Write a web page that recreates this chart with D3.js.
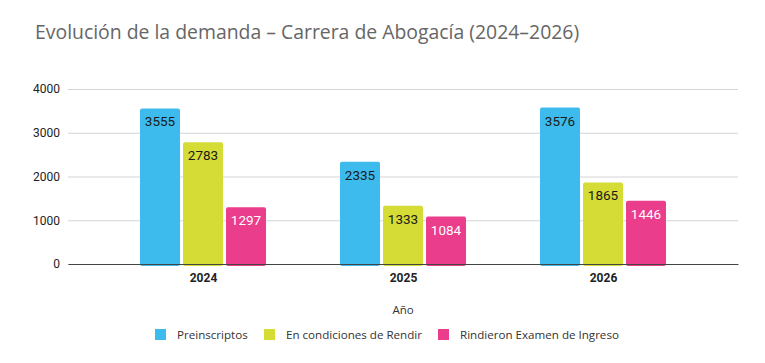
<!DOCTYPE html>
<html>
<head>
<meta charset="utf-8">
<script src="https://cdn.jsdelivr.net/npm/d3@7"></script>
<style>
  body { margin: 0; background: #fff; }
  svg { display: block; }
</style>
</head>
<body>
<div id="chart"></div>
<script>
// data
var years = ["2024", "2025", "2026"];
var seriesNames = ["Preinscriptos", "En condiciones de Rendir", "Rindieron Examen de Ingreso"];
var preinscriptos = [3555, 2335, 3576];
var enCondiciones = [2783, 1333, 1865];
var rindieron = [1297, 1084, 1446];
var yTicks = [0, 1000, 2000, 3000, 4000];

var colors = ["#3dbbec", "#d4dc35", "#ea3d8c"];
var labelColors = ["#1a1a1a", "#1a1a1a", "#ffffff"];

var svgWidth = 765, svgHeight = 363;
var margin = { top: 89, bottom: 99, left: 68, right: 27 };
var width = svgWidth - margin.left - margin.right;
var height = svgHeight - margin.top - margin.bottom;

var svg = d3.select("#chart").append("svg")
  .attr("width", svgWidth)
  .attr("height", svgHeight);

// title
svg.append("text")
  .attr("x", 35)
  .attr("y", 39)
  .attr("font-family", "Open Sans")
  .attr("font-size", 19.4)
  .attr("fill", "#666")
  .text("Evolución de la demanda – Carrera de Abogacía (2024–2026)");

var chartGroup = svg.append("g")
  .attr("transform", `translate(${margin.left}, ${margin.top})`);

var yScale = d3.scaleLinear().domain([0, 4000]).range([height, 0]);
var xScale = d3.scalePoint().domain(years).range([0, width]).padding(0.675);
var innerScale = d3.scaleBand().domain(seriesNames).range([-63, 63]).paddingInner(0.07);

// grid lines
chartGroup.append("g")
  .call(d3.axisLeft(yScale).tickValues(yTicks).tickSize(-width).tickFormat(""))
  .call(g => g.select(".domain").remove())
  .call(g => g.selectAll("line").attr("stroke", "#d4d4d4").attr("stroke-width", 1));

// y tick labels
chartGroup.append("g")
  .call(d3.axisLeft(yScale).tickValues(yTicks).tickSize(0).tickPadding(8).tickFormat(d3.format("d")))
  .call(g => g.select(".domain").remove())
  .call(g => g.selectAll("text").attr("font-family", "Roboto").attr("font-size", 12).attr("fill", "#222"));

// bars
var rows = [];
years.forEach(function(yr, i) {
  [preinscriptos, enCondiciones, rindieron].forEach(function(vals, s) {
    rows.push({ year: yr, series: seriesNames[s], value: vals[i], s: s });
  });
});

var bars = chartGroup.selectAll(".bar")
  .data(rows)
  .enter()
  .append("g")
  .attr("class", "bar")
  .attr("transform", d => `translate(${xScale(d.year) + innerScale(d.series)}, 0)`);

bars.append("rect")
  .attr("x", 0)
  .attr("y", d => yScale(d.value))
  .attr("width", innerScale.bandwidth())
  .attr("height", d => height - yScale(d.value) + 2)
  .attr("rx", 2)
  .attr("fill", d => colors[d.s]);

bars.append("text")
  .attr("x", innerScale.bandwidth() / 2)
  .attr("y", d => yScale(d.value) + 18)
  .attr("text-anchor", "middle")
  .attr("font-family", "Roboto")
  .attr("font-size", 13.5)
  .attr("fill", d => labelColors[d.s])
  .text(d => d.value);

// x axis
chartGroup.append("g")
  .attr("transform", `translate(0, ${height})`)
  .call(d3.axisBottom(xScale).tickSize(0).tickPadding(9))
  .call(g => g.select(".domain").attr("stroke", "#444").attr("stroke-width", 1.2))
  .call(g => g.selectAll("text").attr("font-family", "Roboto").attr("font-weight", "bold").attr("font-size", 12).attr("fill", "#222"));

// x axis title
svg.append("text")
  .attr("x", margin.left + xScale("2025"))
  .attr("y", 314)
  .attr("text-anchor", "middle")
  .attr("font-family", "Open Sans")
  .attr("font-size", 11.5)
  .attr("fill", "#333")
  .text("Año");

// legend
var legendX = [155, 264, 438];
var legend = svg.selectAll(".legend")
  .data(seriesNames)
  .enter()
  .append("g")
  .attr("class", "legend")
  .attr("transform", (d, i) => `translate(${legendX[i]}, 329)`);

legend.append("rect")
  .attr("width", 11)
  .attr("height", 11)
  .attr("fill", (d, i) => colors[i]);

legend.append("text")
  .attr("x", 22)
  .attr("y", 9.5)
  .attr("font-family", "Open Sans")
  .attr("font-size", 11.6)
  .attr("fill", "#333")
  .text(d => d);
</script>
</body>
</html>
